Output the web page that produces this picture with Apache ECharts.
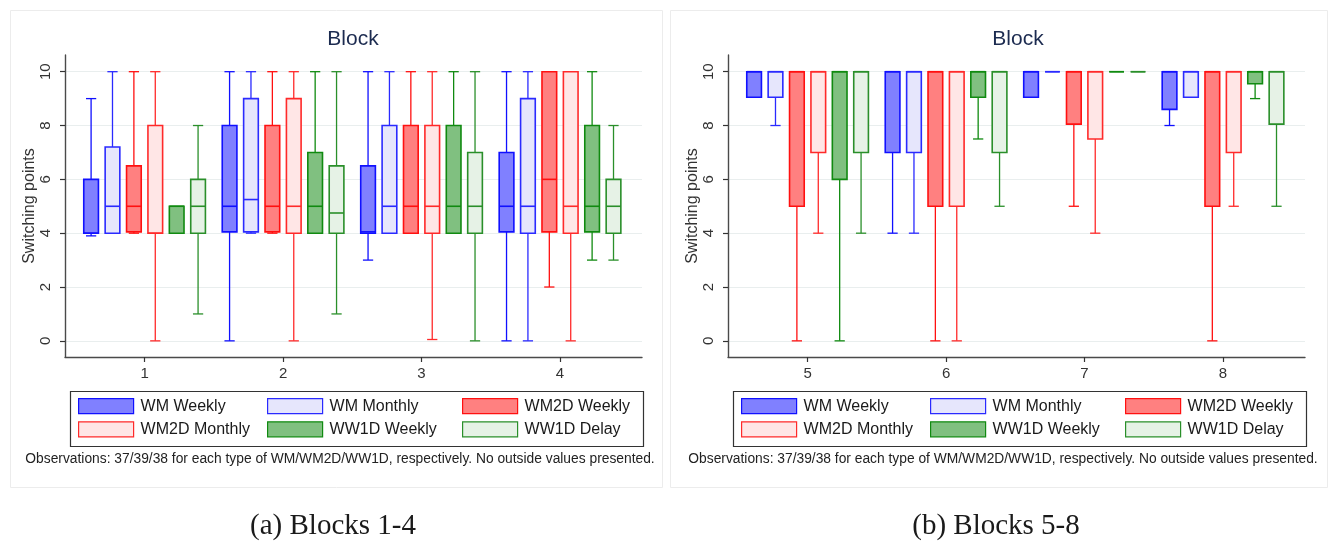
<!DOCTYPE html>
<html><head><meta charset="utf-8">
<script src="https://cdn.jsdelivr.net/npm/echarts@6/dist/echarts.min.js"></script>
<style>html,body{margin:0;padding:0;background:#fff}#c{width:1330px;height:541px}</style>
</head><body><div id="c"></div>
<script>
// ---- data ----
const groups = ['WM Weekly', 'WM Monthly', 'WM2D Weekly', 'WM2D Monthly', 'WW1D Weekly', 'WW1D Delay'];
const blocks = [1, 2, 3, 4, 5, 6, 7, 8];
const xTickLabels = [[1, 2, 3, 4], [5, 6, 7, 8]];
const yTicks = [0, 2, 4, 6, 8, 10];
// each entry: [min, q1, median, q3, max] for blocks 1..8
const wmWeekly = [
  [3.9, 4, 4, 6, 9], [0, 4.05, 5, 8, 10], [3, 4, 4.05, 6.5, 10], [0, 4.05, 5, 7, 10],
  [9.05, 9.05, 10, 10, 10], [4, 7, 10, 10, 10], [9.05, 9.05, 10, 10, 10], [8, 8.6, 10, 10, 10]
];
const wmMonthly = [
  [4, 4, 5, 7.2, 10], [4, 4.05, 5.25, 9, 10], [4, 4, 5, 8, 10], [0, 4, 5, 9, 10],
  [8, 9.05, 10, 10, 10], [4, 7, 10, 10, 10], [10, 10, 10, 10, 10], [9.05, 9.05, 10, 10, 10]
];
const wm2dWeekly = [
  [4, 4.05, 5, 6.5, 10], [4, 4.05, 5, 8, 10], [4, 4, 5, 8, 10], [2, 4.05, 6, 10, 10],
  [0, 5, 10, 10, 10], [0, 5, 10, 10, 10], [5, 8.05, 10, 10, 10], [0, 5, 10, 10, 10]
];
const wm2dMonthly = [
  [0, 4, 4, 8, 10], [0, 4, 5, 9, 10], [0.05, 4, 5, 8, 10], [0, 4, 5, 10, 10],
  [4, 7, 10, 10, 10], [0, 5, 10, 10, 10], [4, 7.5, 10, 10, 10], [5, 7, 10, 10, 10]
];
const ww1dWeekly = [
  [4, 4, 5, 5, 5], [4, 4, 5, 7, 10], [4, 4, 5, 8, 10], [3, 4.05, 5, 8, 10],
  [0, 6, 10, 10, 10], [7.5, 9.05, 10, 10, 10], [10, 10, 10, 10, 10], [9, 9.55, 10, 10, 10]
];
const ww1dDelay = [
  [1, 4, 5, 6, 8], [1, 4, 4.75, 6.5, 10], [0, 4, 5, 7, 10], [3, 4, 5, 6, 8],
  [4, 7, 10, 10, 10], [5, 7, 10, 10, 10], [10, 10, 10, 10, 10], [5, 8.05, 10, 10, 10]
];
const groupData = [wmWeekly, wmMonthly, wm2dWeekly, wm2dMonthly, ww1dWeekly, ww1dDelay];
const fills = ['#8080ff', '#e6e6fc', '#ff8080', '#ffe6e6', '#80c080', '#e6f2e6'];
const strokes = ['#1010ff', '#2a2aff', '#ff1010', '#ff2a2a', '#108a10', '#2a8f2a'];
const noteText = 'Observations: 37/39/38 for each type of WM/WM2D/WW1D, respectively. No outside values presented.';
const captions = ['(a) Blocks 1-4', '(b) Blocks 5-8'];

// ---- chart ----
const FONT = '"Liberation Sans", Arial, sans-serif';
const chart = echarts.init(document.getElementById('c'), null, {renderer: 'canvas'});

function makeRender(k) {
  return function (params, api) {
    const x = api.value(0);
    const band = api.size([1, 0])[0];
    const cx = api.coord([x, 0])[0] + (k - 2.5) * 0.1545 * band;
    const hw = 0.053 * band, cw = 0.037 * band;
    const yMin = api.coord([x, api.value(1)])[1];
    const yQ1 = api.coord([x, api.value(2)])[1];
    const yMed = api.coord([x, api.value(3)])[1];
    const yQ3 = api.coord([x, api.value(4)])[1];
    const yMax = api.coord([x, api.value(5)])[1];
    const ls = {stroke: strokes[k], lineWidth: 1.3};
    const children = [];
    if (yMin - yQ1 > 0.5) {
      children.push({type: 'line', shape: {x1: cx, y1: yQ1, x2: cx, y2: yMin}, style: ls});
      children.push({type: 'line', shape: {x1: cx - cw, y1: yMin, x2: cx + cw, y2: yMin}, style: ls});
    }
    if (yQ3 - yMax > 0.5) {
      children.push({type: 'line', shape: {x1: cx, y1: yMax, x2: cx, y2: yQ3}, style: ls});
      children.push({type: 'line', shape: {x1: cx - cw, y1: yMax, x2: cx + cw, y2: yMax}, style: ls});
    }
    children.push({type: 'rect', shape: {x: cx - hw, y: yQ3, width: 2 * hw, height: Math.max(yQ1 - yQ3, 0)},
      style: {fill: fills[k], stroke: strokes[k], lineWidth: 1.6}});
    children.push({type: 'line', shape: {x1: cx - hw, y1: yMed, x2: cx + hw, y2: yMed},
      style: {stroke: strokes[k], lineWidth: 1.6}});
    return {type: 'group', children: children};
  };
}

const panels = [
  {left: 65, right: 688, xmin: 0.4253, xmax: 4.592, titleX: 348, legendX: 68, noteX: 335, capX: 328},
  {left: 728, right: 25, xmin: 4.4253, xmax: 8.592, titleX: 1013, legendX: 731, noteX: 998, capX: 991}
];

const grid = [], xAxis = [], yAxis = [], series = [], legend = [], title = [], graphic = [];
panels.forEach((p, pi) => {
  grid.push({left: p.left, right: p.right, top: 55, bottom: 184, containLabel: false});
  xAxis.push({
    type: 'value', gridIndex: pi, min: p.xmin, max: p.xmax,
    axisLine: {show: true, onZero: false, lineStyle: {color: '#4a4a4a', width: 1.4}},
    axisTick: {show: true, length: 5, customValues: xTickLabels[pi], lineStyle: {color: '#333', width: 1.2}},
    axisLabel: {show: true, customValues: xTickLabels[pi], margin: 9, fontSize: 15, color: '#333', fontFamily: FONT},
    splitLine: {show: false}
  });
  yAxis.push({
    type: 'value', gridIndex: pi, min: -0.6, max: 10.62,
    name: 'Switching points', nameLocation: 'middle', nameGap: 21,
    nameTextStyle: {fontSize: 16, color: '#333', fontFamily: FONT},
    axisLine: {show: true, lineStyle: {color: '#4a4a4a', width: 1.4}},
    axisTick: {show: true, length: 5, customValues: yTicks, lineStyle: {color: '#333', width: 1.2}},
    axisLabel: {show: true, customValues: yTicks, rotate: 90, margin: 12, fontSize: 15, color: '#333', fontFamily: FONT},
    splitLine: {show: true, lineStyle: {color: '#e9eeee', width: 1.2}}
  });
  groups.forEach((g, k) => {
    const data = [];
    for (let b = pi * 4; b < pi * 4 + 4; b++) {
      data.push([blocks[b]].concat(groupData[k][b]));
    }
    series.push({
      type: 'custom', name: g, xAxisIndex: pi, yAxisIndex: pi,
      renderItem: makeRender(k), data: data,
      encode: {x: 0, y: [1, 2, 3, 4, 5]},
      itemStyle: {color: fills[k], borderColor: strokes[k], borderWidth: 1.2},
      silent: true
    });
  });
  const cols = [[0, 3], [1, 4], [2, 5]];
  const colX = [p.legendX + 10, p.legendX + 199, p.legendX + 394];
  cols.forEach((c, ci) => {
    legend.push({
      orient: 'vertical', left: colX[ci], top: 398, padding: 0, itemGap: 7,
      itemWidth: 55, itemHeight: 15, icon: 'rect', selectedMode: false,
      textStyle: {fontSize: 16, color: '#1a1a1a', fontFamily: FONT, padding: [0, 0, 0, 2]},
      data: c.map(k => ({name: groups[k], itemStyle: {color: fills[k], borderColor: strokes[k], borderWidth: 1.2}}))
    });
  });
  graphic.push({type: 'rect', left: p.legendX, top: 389, shape: {width: 573, height: 55},
    style: {fill: 'none', stroke: '#333', lineWidth: 1.2}, silent: true});
  title.push({text: 'Block', left: p.titleX, top: 24, textAlign: 'center',
    textStyle: {fontSize: 21, fontWeight: 'normal', color: '#1c2b50', fontFamily: FONT}});
  title.push({text: noteText, left: p.noteX, top: 447, textAlign: 'center',
    textStyle: {fontSize: 13.8, fontWeight: 'normal', color: '#222', fontFamily: FONT}});
  title.push({text: captions[pi], left: p.capX, top: 507, textAlign: 'center',
    textStyle: {fontSize: 29, fontWeight: 'normal', color: '#1a1a1a', fontFamily: '"Liberation Serif", "Times New Roman", serif'}});
});
graphic.push({type: 'rect', left: 8, top: 8, shape: {width: 652, height: 477}, style: {fill: 'none', stroke: '#ececec', lineWidth: 1}, silent: true, z: -1});
graphic.push({type: 'rect', left: 668, top: 8, shape: {width: 657, height: 477}, style: {fill: 'none', stroke: '#ececec', lineWidth: 1}, silent: true, z: -1});

chart.setOption({
  animation: false,
  backgroundColor: '#fff',
  title: title, grid: grid, xAxis: xAxis, yAxis: yAxis,
  legend: legend, series: series, graphic: graphic
});
</script>
</body></html>
